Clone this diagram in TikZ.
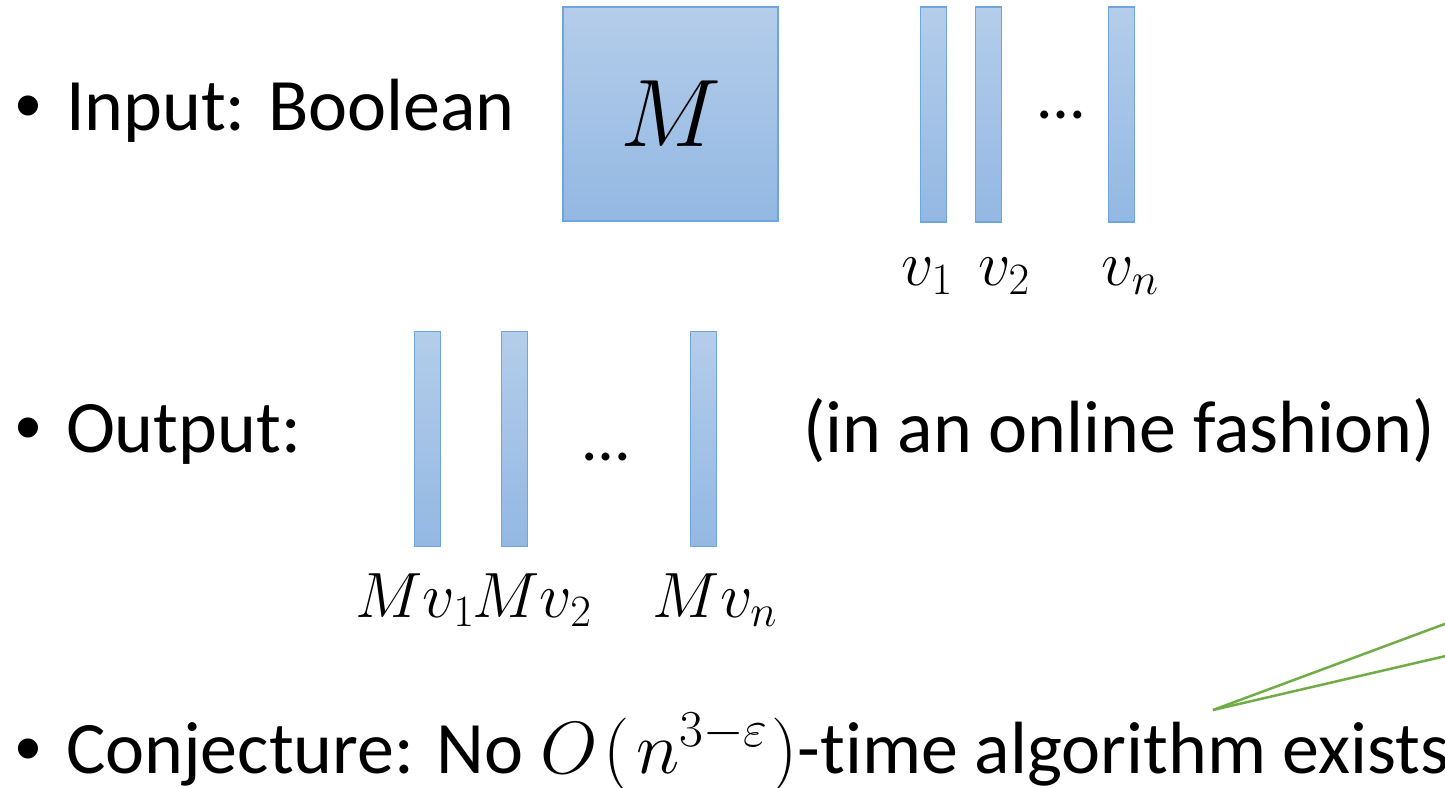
\RequirePackage{fix-cm}
\documentclass[tikz,border=0pt]{standalone}
\usepackage{fontspec}
\setmainfont{Carlito}[Ligatures=NoCommon]
\newfontfamily\bulletfont{Liberation Sans}
\definecolor{boxtop}{RGB}{180,205,234}
\definecolor{boxbot}{RGB}{147,184,227}
\definecolor{boxline}{RGB}{110,165,220}
\definecolor{callout}{RGB}{112,173,71}
\begin{document}
\begin{tikzpicture}[x=1pt,y=-1pt,
  blk/.style={draw=boxline, line width=1.5pt, top color=boxtop, bottom color=boxbot, inner sep=0pt, outer sep=0pt},
  colvec/.style={blk, minimum width=26pt, minimum height=215pt},
  bigtext/.style={inner sep=0pt, outer sep=0pt, anchor=base west, font=\fontsize{74}{88}\selectfont},
  bul/.style={inner sep=0pt, outer sep=0pt, anchor=base west, font=\bulletfont\fontsize{74}{88}\selectfont},
  lbl/.style={inner sep=0pt, outer sep=0pt, anchor=base, font=\fontsize{64}{76}\selectfont},
  dotsnode/.style={inner sep=0pt, outer sep=0pt, anchor=base, font=\fontsize{66}{78}\selectfont},
  green line/.style={draw=callout, line width=2.5pt}]
\useasboundingbox (0,0) rectangle (1445,787);
\clip (0,0) rectangle (1445,787);

% Row 1
\node[bul] (b1) at (16,130) {•};
\node[bigtext] (t1) at (66,130) {Input: Boolean};
\node[blk, minimum width=215pt, minimum height=214pt, font=\fontsize{96}{110}\selectfont] (M) at (670.5,114) {$M$};
\node[colvec] (v1) at (933.5,114.5) {};
\node[colvec] (v2) at (988.5,114.5) {};
\node[colvec] (vn) at (1121.5,114.5) {};
\node[dotsnode] (d1) at (1061,118) {…};
\node[lbl] (lv1) at (927,285) {$v_1$};
\node[lbl] (lv2) at (1004,285) {$v_2$};
\node[lbl] (lvn) at (1130,285) {$v_n$};

% Row 2
\node[bul] (b2) at (16,452) {•};
\node[bigtext] (t2) at (66,452) {Output:};
\node[colvec] (w1) at (427.5,439) {};
\node[colvec] (w2) at (514.5,439) {};
\node[colvec] (wn) at (703.5,439) {};
\node[dotsnode] (d2) at (606,460) {…};
\node[lbl] (lw1) at (415,617) {$Mv_1$};
\node[lbl] (lw2) at (532,617) {$Mv_2$};
\node[lbl] (lwn) at (715,617) {$Mv_n$};
\node[bigtext] (t2b) at (803,452) {(in an online fashion)};

% Row 3
\node[bul] (b3) at (16,773) {•};
\node[bigtext] (t3) at (66,773) {Conjecture: No $O\mkern1.5mu(\mkern1.5mu n^{3-\varepsilon}\mkern1mu)$-time algorithm exists};

% Callout lines
\coordinate (tip) at (1213,710);
\coordinate (c1) at (1450,622);
\coordinate (c2) at (1450,655);
\draw[green line] (tip) -- (c1);
\draw[green line] (tip) -- (c2);
\end{tikzpicture}
\end{document}
